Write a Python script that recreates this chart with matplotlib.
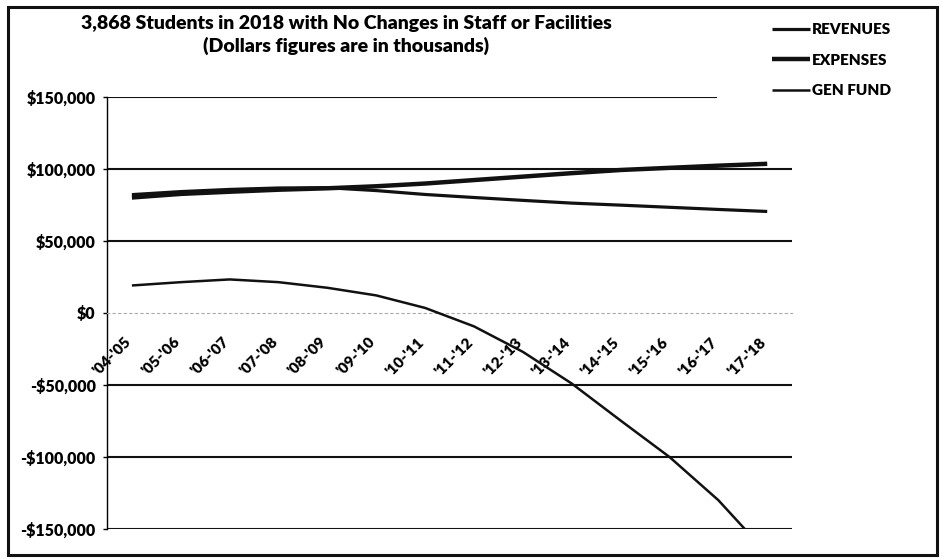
import matplotlib
matplotlib.use("Agg")
import matplotlib.pyplot as plt
import matplotlib.transforms as mtransforms
from matplotlib.patches import Rectangle
from matplotlib.ticker import FuncFormatter

# school years on the category axis
years = ["'04-'05", "'05-'06", "'06-'07", "'07-'08", "'08-'09", "'09-'10", "'10-'11",
         "'11-'12", "'12-'13", "'13-'14", "'14-'15", "'15-'16", "'16-'17", "'17-'18"]

# dollars in thousands
revenues = [82200, 84300, 85800, 86800, 87000, 85000, 82300,
            80200, 78200, 76300, 74900, 73400, 71900, 70500]
expenses = [80200, 82700, 84200, 85600, 86600, 88000, 89900,
            92300, 94700, 97100, 99300, 100800, 102300, 103600]
gen_fund = [19100, 21400, 23300, 21400, 17500, 12200, 3500,
            -9300, -27000, -49000, -74700, -100000, -130000, -167000]

yticks = [-150000, -100000, -50000, 0, 50000, 100000, 150000]

plt.rcParams["font.family"] = ["Lato", "DejaVu Sans"]
plt.rcParams["font.weight"] = "heavy"

fig = plt.figure(figsize=(9.42, 5.59), dpi=100)
ax = fig.add_axes([0.1141, 0.0537, 0.7263, 0.7728])

x = range(len(years))
ax.plot(x, revenues, color="#111111", lw=2.3, label="REVENUES", solid_capstyle="butt", zorder=3)
ax.plot(x, expenses, color="#111111", lw=3.2, label="EXPENSES", solid_capstyle="butt", zorder=3)
ax.plot(x, gen_fund, color="#111111", lw=1.8, label="GEN FUND", solid_capstyle="butt", zorder=3)

ax.set_xlim(-0.5, len(years) - 0.5)
ax.set_ylim(yticks[0], yticks[-1])

# horizontal gridlines, the zero line is the faint category axis
for v in yticks:
    if v != 0:
        ax.axhline(v, color="#111111", lw=1.5, zorder=1)

ax.spines["top"].set_visible(False)
ax.spines["right"].set_visible(False)
ax.spines["left"].set_linewidth(1.0)
ax.spines["bottom"].set_position(("data", 0))
ax.spines["bottom"].set_color("#aaaaaa")
ax.spines["bottom"].set_linestyle((0, (2, 3)))
ax.spines["bottom"].set_linewidth(0.8)

ax.set_yticks(yticks)
ax.yaxis.set_major_formatter(FuncFormatter(
    lambda v, p: ("-$" if v < 0 else "$") + f"{abs(int(v)):,}"))
ax.tick_params(axis="y", length=3, width=1, pad=5.5, labelsize=11.5)

ax.set_xticks(list(x))
ax.set_xticklabels(years, rotation=45, ha="right", va="top", rotation_mode="anchor")
ax.tick_params(axis="x", length=0, pad=16, labelsize=11)
shift = mtransforms.ScaledTranslation(-8 / 100, 0, fig.dpi_scale_trans)
for lbl in ax.get_xticklabels():
    lbl.set_transform(lbl.get_transform() + shift)

# title
fig.text(346 / 942, 1 - 23 / 559, "3,868 Students in 2018 with No Changes in Staff or Facilities",
         ha="center", va="center", fontsize=14, fontweight="heavy")
fig.text(346 / 942, 1 - 46 / 559, "(Dollars figures are in thousands)",
         ha="center", va="center", fontsize=14, fontweight="heavy")

# white legend area overlapping the top gridline
fig.patches.append(Rectangle((717 / 942, 1 - 99 / 559), 215 / 942, 90 / 559,
                             transform=fig.transFigure, facecolor="white",
                             edgecolor="none", zorder=2))
leg = fig.legend(loc="upper left", bbox_to_anchor=(766 / 942, 1 - 17 / 559),
                 frameon=False, fontsize=11, handlelength=2.5, handletextpad=0.1,
                 labelspacing=1.15, borderaxespad=0)
leg.set_zorder(3)

# outer border
fig.patches.append(Rectangle((8 / 942, 4 / 559), 929 / 942, 548 / 559,
                             transform=fig.transFigure, facecolor="none",
                             edgecolor="#111111", lw=2.2, zorder=4))

fig.savefig("out.png", dpi=100)
